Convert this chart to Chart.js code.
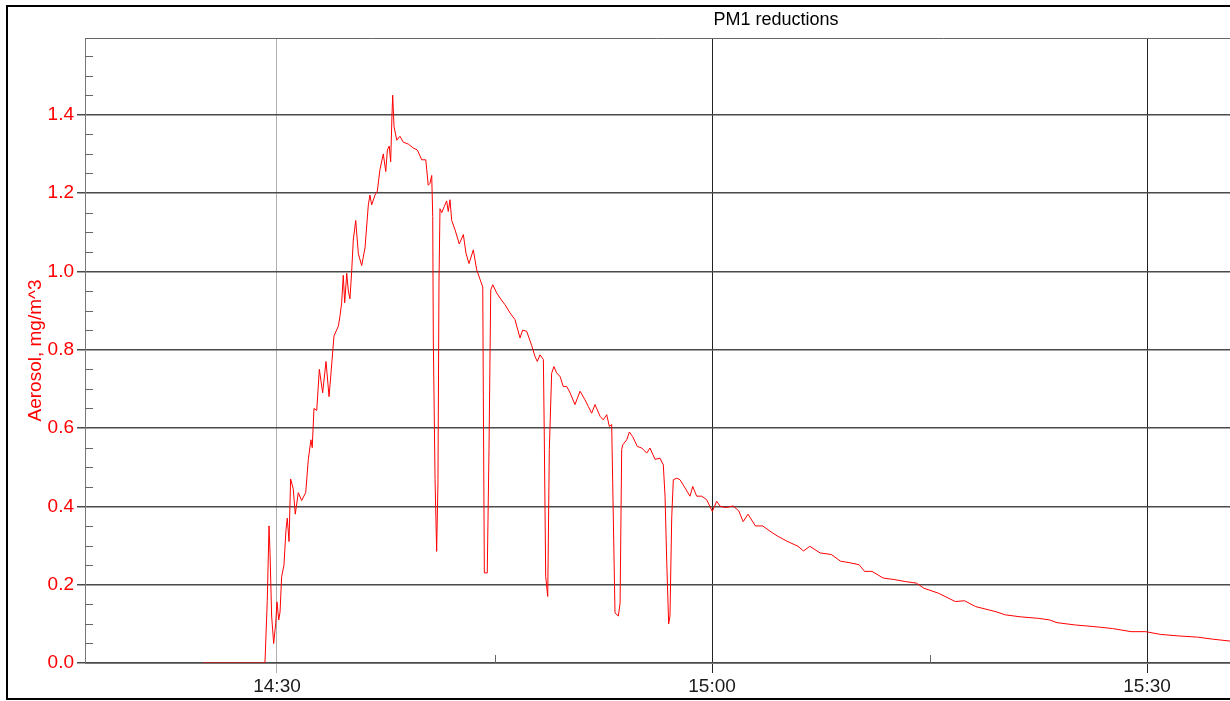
<!DOCTYPE html>
<html>
<head>
<meta charset="utf-8">
<title>PM1 reductions</title>
<script src="https://cdn.jsdelivr.net/npm/chart.js@4.4.1/dist/chart.umd.min.js"></script>
<style>
    html, body { margin: 0; padding: 0; background: #fff; }
    canvas { display: block; }
</style>
</head>
<body>
<canvas id="pm1Chart" width="1230" height="701"></canvas>
<script>
// time in minutes after midnight (870 = 14:30)
const timeMin = [
    864.90, 869.17, 869.33, 869.45, 869.52, 869.63, 869.77, 869.91, 870.00, 870.12,
    870.21, 870.32, 870.48, 870.62, 870.71, 870.83, 870.94, 871.12, 871.26, 871.47,
    871.70, 871.98, 872.16, 872.34, 872.43, 872.55, 872.74, 872.92, 873.15, 873.38,
    873.59, 873.79, 873.93, 874.23, 874.34, 874.46, 874.57, 874.67, 874.81, 874.92,
    875.03, 875.15, 875.26, 875.43, 875.61, 875.84, 876.07, 876.30, 876.41, 876.53,
    876.76, 876.92, 877.10, 877.33, 877.50, 877.61, 877.74, 877.84, 877.93, 877.98,
    878.07, 878.26, 878.48, 878.71, 879.06, 879.40, 879.68, 879.98, 880.26, 880.43,
    880.55, 880.67, 880.74, 880.78, 880.90, 881.01, 881.10, 881.17, 881.24, 881.36,
    881.54, 881.70, 881.81, 881.93, 882.05, 882.28, 882.57, 882.85, 883.03, 883.24,
    883.54, 883.77, 884.00, 884.19, 884.23, 884.30, 884.50, 884.62, 884.74, 884.88,
    885.15, 885.38, 885.72, 886.07, 886.41, 886.76, 886.94, 887.22, 887.57, 887.79,
    887.95, 888.14, 888.37, 888.43, 888.53, 888.67, 888.78, 888.94, 889.10, 889.29,
    889.52, 889.74, 889.98, 890.21, 890.55, 890.90, 891.24, 891.47, 891.70, 891.93,
    892.28, 892.50, 892.74, 892.92, 893.08, 893.15, 893.31, 893.54, 893.66, 893.77,
    893.84, 894.12, 894.30, 894.53, 894.85, 895.15, 895.50, 895.72, 896.07, 896.41,
    896.64, 896.76, 896.88, 897.01, 897.10, 897.22, 897.33, 897.57, 897.79, 898.14,
    898.48, 898.67, 898.94, 899.29, 899.63, 900.02, 900.32, 900.57, 900.95, 901.46,
    901.85, 902.15, 902.48, 902.99, 903.50, 904.14, 904.52, 905.17, 905.93, 906.31,
    906.74, 907.46, 908.23, 908.86, 909.50, 910.14, 910.52, 911.03, 911.80, 912.57,
    913.33, 914.10, 914.61, 915.63, 916.77, 917.41, 918.18, 919.58, 920.22, 921.24,
    922.52, 923.28, 923.79, 925.07, 926.34, 927.62, 928.90, 929.91, 930.93, 932.21,
    933.48, 934.50, 935.72
];

// aerosol, mg/m^3
const pm1 = [
    0.000, 0.000, 0.160, 0.350, 0.280, 0.120, 0.050, 0.100, 0.156, 0.110,
    0.130, 0.220, 0.250, 0.340, 0.370, 0.310, 0.470, 0.445, 0.380, 0.435,
    0.415, 0.435, 0.520, 0.570, 0.550, 0.650, 0.645, 0.750, 0.690, 0.770,
    0.680, 0.770, 0.835, 0.860, 0.885, 0.920, 0.990, 0.920, 0.995, 0.950,
    0.930, 1.000, 1.080, 1.130, 1.045, 1.015, 1.060, 1.170, 1.195, 1.170,
    1.195, 1.205, 1.260, 1.300, 1.255, 1.310, 1.320, 1.280, 1.400, 1.450,
    1.370, 1.335, 1.345, 1.330, 1.325, 1.315, 1.310, 1.285, 1.285, 1.220,
    1.225, 1.245, 1.140, 0.825, 0.468, 0.285, 0.460, 0.970, 1.160, 1.150,
    1.166, 1.180, 1.153, 1.183, 1.130, 1.106, 1.070, 1.094, 1.047, 1.020,
    1.055, 1.004, 0.980, 0.960, 0.680, 0.230, 0.230, 0.545, 0.953, 0.966,
    0.945, 0.932, 0.915, 0.894, 0.877, 0.830, 0.850, 0.847, 0.810, 0.783,
    0.770, 0.787, 0.775, 0.590, 0.221, 0.170, 0.545, 0.740, 0.757, 0.740,
    0.732, 0.706, 0.706, 0.690, 0.660, 0.694, 0.672, 0.655, 0.638, 0.660,
    0.630, 0.621, 0.634, 0.604, 0.609, 0.460, 0.128, 0.120, 0.153, 0.545,
    0.557, 0.570, 0.590, 0.578, 0.553, 0.549, 0.536, 0.549, 0.520, 0.523,
    0.506, 0.426, 0.255, 0.100, 0.120, 0.370, 0.468, 0.472, 0.468, 0.447,
    0.426, 0.451, 0.426, 0.426, 0.417, 0.387, 0.413, 0.400, 0.397, 0.401,
    0.388, 0.361, 0.380, 0.350, 0.350, 0.333, 0.324, 0.311, 0.298, 0.286,
    0.298, 0.281, 0.277, 0.260, 0.256, 0.251, 0.234, 0.234, 0.217, 0.213,
    0.208, 0.204, 0.191, 0.178, 0.157, 0.159, 0.144, 0.131, 0.123, 0.118,
    0.114, 0.110, 0.103, 0.097, 0.093, 0.088, 0.080, 0.080, 0.073, 0.069,
    0.066, 0.061, 0.056
];

const xTickValues = [870, 900, 930];        // 14:30, 15:00, 15:30
const xMinorTicks = [885, 915];
const yTickValues = [0, 0.2, 0.4, 0.6, 0.8, 1.0, 1.2, 1.4];
const yMinorTicks = [0.05, 0.1, 0.15, 0.25, 0.3, 0.35, 0.45, 0.5, 0.55, 0.65, 0.7, 0.75,
    0.85, 0.9, 0.95, 1.05, 1.1, 1.15, 1.25, 1.3, 1.35, 1.45, 1.5, 1.55];

const FONT = '"Liberation Sans", Arial, sans-serif';

function fmtTime(v) {
    const h = Math.floor(v / 60);
    const m = Math.round(v - h * 60);
    return h + ':' + String(m).padStart(2, '0');
}

// frame, title and the small inner ticks
const decorPlugin = {
    id: 'decor',
    beforeDatasetsDraw(chart) {
        const { ctx, chartArea, scales } = chart;
        ctx.save();
        ctx.strokeStyle = '#666';
        ctx.lineWidth = 1;
        ctx.beginPath();
        ctx.moveTo(chartArea.left, chartArea.top + 0.5);
        ctx.lineTo(chartArea.right, chartArea.top + 0.5);
        yMinorTicks.forEach(v => {
            const y = Math.round(scales.y.getPixelForValue(v)) + 0.5;
            ctx.moveTo(chartArea.left, y);
            ctx.lineTo(chartArea.left + 8, y);
        });
        xMinorTicks.forEach(v => {
            const x = Math.round(scales.x.getPixelForValue(v)) + 0.5;
            ctx.moveTo(x, chartArea.bottom);
            ctx.lineTo(x, chartArea.bottom - 8);
        });
        ctx.stroke();
        ctx.restore();
    },
    afterDraw(chart) {
        const { ctx } = chart;
        ctx.save();
        ctx.strokeStyle = '#000';
        ctx.lineWidth = 2;
        ctx.strokeRect(7, 6, 1400, 693);
        ctx.fillStyle = '#000';
        ctx.font = '18px ' + FONT;
        ctx.textAlign = 'center';
        ctx.textBaseline = 'middle';
        ctx.fillText('PM1 reductions', 776, 20);
        ctx.restore();
    }
};

function renderPm1Chart() {
    const ctx = document.getElementById('pm1Chart').getContext('2d');
    const points = timeMin.map((t, i) => ({ x: t, y: pm1[i] }));

    new Chart(ctx, {
        type: 'line',
        data: {
            datasets: [{
                label: 'PM1',
                data: points,
                borderColor: '#ff0000',
                borderWidth: 1,
                pointRadius: 0,
                tension: 0,
                fill: false
            }]
        },
        options: {
            responsive: false,
            animation: false,
            layout: { padding: { top: 38, left: 0, right: 0, bottom: 0 } },
            plugins: {
                legend: { display: false },
                tooltip: { enabled: false }
            },
            scales: {
                x: {
                    type: 'linear',
                    min: 856.76,
                    max: 935.72,
                    afterBuildTicks: scale => { scale.ticks = xTickValues.map(v => ({ value: v })); },
                    afterFit: scale => { scale.height = 38; },
                    grid: {
                        color: c => c.tick && c.tick.value === 870 ? '#b0b0b0' : '#222',
                        tickColor: c => c.tick && c.tick.value === 870 ? '#b0b0b0' : '#222',
                        tickLength: 10,
                        lineWidth: 1
                    },
                    border: { color: '#777', width: 1 },
                    ticks: {
                        color: '#1a1a1a',
                        font: { family: FONT, size: 19 },
                        padding: 2,
                        maxRotation: 0,
                        callback: v => fmtTime(v)
                    }
                },
                y: {
                    min: 0,
                    max: 1.596,
                    afterBuildTicks: scale => { scale.ticks = yTickValues.map(v => ({ value: v })); },
                    afterFit: scale => { scale.width = 85; },
                    grid: {
                        color: '#4a4a4a',
                        tickColor: '#4a4a4a',
                        tickLength: 8,
                        lineWidth: 1.5
                    },
                    border: { color: '#777', width: 1 },
                    ticks: {
                        color: '#ff0000',
                        font: { family: FONT, size: 19 },
                        padding: 3,
                        callback: v => v.toFixed(1)
                    },
                    title: {
                        display: true,
                        text: 'Aerosol, mg/m^3',
                        color: '#ff0000',
                        font: { family: FONT, size: 19 },
                        padding: { top: 24, bottom: 0 }
                    }
                }
            }
        },
        plugins: [decorPlugin]
    });
}

document.addEventListener('DOMContentLoaded', () => {
    renderPm1Chart();
});
</script>
</body>
</html>
